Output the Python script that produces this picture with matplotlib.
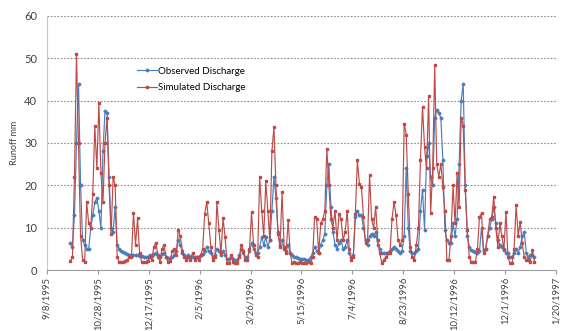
import matplotlib
matplotlib.use("Agg")
import matplotlib.pyplot as plt
import pandas as pd

plt.rcParams['font.family'] = ['Lato', 'DejaVu Sans']

# runoff series, one reading every 2 days starting 1 Oct 1995
start_date = "1995-10-01"
step_days = 2

observed = [
    6.3, 5.5, 13, 30, 44, 20, 7, 6, 5, 5,
    10, 13, 16, 17, 14, 10, 28, 37.5, 37, 22,
    10, 9, 15, 6, 5, 4.5, 4.2, 4, 3.8, 3.6,
    3.6, 3.6, 3.5, 3.5, 3.4, 3.3, 3.2, 3.1, 3.2, 3.6,
    3.3, 3.8, 4, 3.2, 3, 3.8, 4, 3.2, 2.8, 2.8,
    3, 3.5, 4.5, 7, 6, 4, 3.5, 3.2, 3.5, 3.2,
    3, 3.2, 3, 3.2, 3.5, 3.8, 4.5, 5.5, 4.5, 4,
    3.2, 3.5, 5, 4.5, 3.5, 4.5, 3.5, 2.7, 2.7, 3,
    2.6, 2.4, 2.4, 3.5, 5, 4, 3, 3, 4.5, 6.3,
    5, 4, 4, 5.5, 7.8, 6, 7.8, 5.5, 7, 14,
    22, 17, 9, 6, 7, 5, 4.5, 6, 4, 3.5,
    3.2, 3, 2.8, 2.7, 2.6, 2.6, 2.5, 2.5, 3, 4,
    5.5, 4.5, 4, 6, 7, 8.6, 20, 25, 15, 9,
    6, 5, 6.5, 7, 5, 5.5, 7, 4, 3, 3.5,
    12.5, 14, 13, 13, 10, 7, 6, 8, 8.6, 8,
    9, 6, 5, 4, 4, 4, 4, 4.5, 5, 5.5,
    5, 4.5, 4, 4.5, 8, 24, 10, 4.5, 4, 4,
    4.5, 5, 14, 19, 9.4, 27, 30, 22, 20, 36,
    37.8, 37, 36, 26, 9.4, 7, 6.5, 6.3, 11, 8,
    12, 25, 40, 44, 20, 8, 5.5, 4.7, 4.5, 4.2,
    4, 4.5, 10, 4.7, 5, 8, 10, 12, 15, 11,
    7, 6, 5.5, 5, 4, 4, 3, 3, 4, 5,
    4, 5.5, 8, 9, 4, 3, 3.5, 3.5, 3,
]

simulated = [
    2.2, 3, 22, 51, 30, 8, 2.5, 2, 16, 11,
    10, 18, 34, 24, 39.5, 23, 16, 30, 36, 20,
    8.5, 22, 20, 3, 2, 2, 2, 2.2, 2.5, 3,
    3, 13.5, 6, 12.2, 4, 2, 2, 2, 2.2, 3,
    2.5, 5.5, 6.5, 3.5, 2, 5, 6, 3, 2, 2.2,
    4.5, 5, 3.5, 9.5, 8, 4.5, 3, 2.5, 3, 2.5,
    4, 2.5, 3, 2.5, 3.5, 5, 13.3, 16, 11, 5.5,
    2.4, 3, 16, 9.4, 4, 12.2, 7.8, 1.6, 1.6, 3.5,
    1.8, 1.6, 1.6, 3, 5.9, 4.5, 2.4, 2.4, 5, 13.7,
    6, 3.5, 3, 22, 14, 8, 21, 14, 7, 28,
    33.7, 20, 8.6, 5.5, 18.4, 5.5, 4, 11.8, 4, 1.6,
    2, 1.6, 1.6, 2, 1.6, 1.7, 1.6, 1.8, 1.6, 3,
    12.5, 12, 4, 11, 12, 14, 28.6, 20, 12, 10,
    14, 7, 13.3, 12, 7, 9, 14, 5, 2.4, 3,
    13.3, 25.9, 20.4, 19.5, 12.5, 6.3, 7, 22.4, 12, 10,
    15, 7, 4, 1.6, 2.5, 3, 4, 4, 12, 16,
    13, 7, 6, 7, 34.5, 32, 18, 5.5, 3, 2.4,
    6, 10, 26, 38.6, 29, 24, 41, 13.4, 24, 48.3,
    25, 22, 25, 19.7, 14, 2.4, 2.5, 8, 20, 11,
    22.8, 15, 36, 34, 19, 9.5, 3, 2, 2, 2,
    5, 12.6, 13.4, 4, 5, 8, 12, 12.5, 17.3, 10,
    5.5, 11, 8, 4.7, 13.8, 3, 1.6, 1.6, 5, 15.4,
    8, 11.4, 6.3, 3, 2.4, 2.4, 2, 4.7, 2,
]

y_ticks = [0, 10, 20, 30, 40, 50, 60]
x_tick_start = "1995-09-08"
x_tick_count = 11

blue = "#4a7ebb"
red = "#be4b48"
text_col = "#404040"

dates = pd.date_range(start_date, periods=len(observed), freq=f"{step_days}D")
tick_dates = pd.date_range(x_tick_start, periods=x_tick_count, freq="50D")

fig = plt.figure(figsize=(5.62, 3.31), dpi=100)
ax = fig.add_axes([0.0836, 0.184, 0.9054, 0.768])

ax.plot(dates, observed, color=blue, lw=0.85, marker="D", ms=1.5,
        mec=blue, mfc=blue, label="Observed Discharge", zorder=3)
ax.plot(dates, simulated, color=red, lw=0.85, marker="s", ms=1.5,
        mec=red, mfc=red, label="Simulated Discharge", zorder=4)

ax.set_xlim(tick_dates[0], tick_dates[-1])
ax.set_ylim(0, 60)
ax.set_yticks(y_ticks)
ax.set_xticks(tick_dates)
ax.set_xticklabels([f"{d.month}/{d.day}/{d.year}" for d in tick_dates],
                   rotation=90, fontsize=6.8, color=text_col)
ax.tick_params(axis="y", length=0, pad=7, labelsize=8, labelcolor=text_col)
ax.tick_params(axis="x", length=3, color="#999999", pad=2)

ax.grid(axis="y", ls=(0, (1.5, 1.5)), color="#8c8c8c", lw=0.8)
ax.set_axisbelow(True)
for side in ("top", "right"):
    ax.spines[side].set_visible(False)
ax.spines["left"].set_color("#c8c8c8")
ax.spines["bottom"].set_color("#a0a0a0")

ax.set_ylabel("Runoff mm", fontsize=6.5, color=text_col, labelpad=4)

ax.legend(loc="upper left", bbox_to_anchor=(0.16, 0.835), frameon=False,
          fontsize=7, handlelength=2.0, labelspacing=0.8, handletextpad=0.15,
          markerscale=1.0)

fig.savefig("out.png", dpi=100)
